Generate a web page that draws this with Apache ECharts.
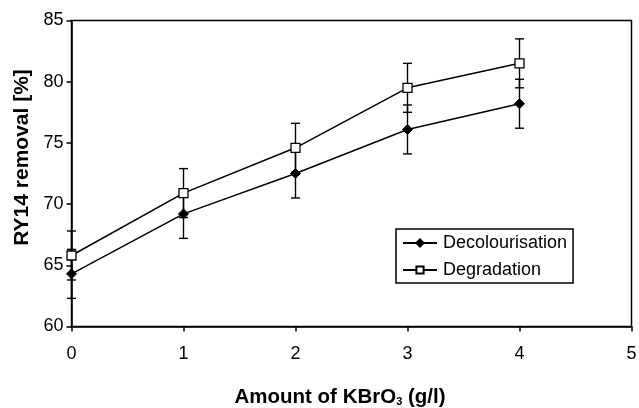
<!DOCTYPE html>
<html>
<head>
<meta charset="utf-8">
<script src="https://cdn.jsdelivr.net/npm/echarts@6/dist/echarts.min.js"></script>
<style>html,body{margin:0;padding:0;background:#fff}#c{width:639px;height:408px}</style>
</head>
<body>
<div id="c"></div>
<script>
const amounts = [0, 1, 2, 3, 4];
const decolourisation = [64.3, 69.2, 72.5, 76.1, 78.2];
const degradation = [65.8, 70.9, 74.6, 79.5, 81.5];
const decolourisationErr = [2, 2, 2, 2, 2];
const degradationErr = [2, 2, 2, 2, 2];
const xTicks = [0, 1, 2, 3, 4, 5];
const yTicks = [60, 65, 70, 75, 80, 85];

const FONT = 'Liberation Sans, Arial, sans-serif';

function pairs(xs, ys) { return xs.map((x, i) => [x, ys[i]]); }
function errData(xs, ys, es) { return xs.map((x, i) => [x, ys[i] - es[i], ys[i] + es[i]]); }

function errRender(params, api) {
  const x = api.value(0);
  const lo = api.coord([x, api.value(1)]);
  const hi = api.coord([x, api.value(2)]);
  const w = 4.5;
  const st = { stroke: '#000', lineWidth: 1.4 };
  return {
    type: 'group',
    children: [
      { type: 'line', shape: { x1: lo[0], y1: lo[1], x2: hi[0], y2: hi[1] }, style: st },
      { type: 'line', shape: { x1: lo[0] - w, y1: lo[1], x2: lo[0] + w, y2: lo[1] }, style: st },
      { type: 'line', shape: { x1: hi[0] - w, y1: hi[1], x2: hi[0] + w, y2: hi[1] }, style: st }
    ]
  };
}

const chart = echarts.init(document.getElementById('c'), null, { renderer: 'canvas' });
chart.setOption({
  animation: false,
  backgroundColor: '#fff',
  grid: { left: 71.5, right: 7.5, top: 20.5, bottom: 81.5, outerBoundsMode: 'none', containLabel: false, show: true, borderColor: '#000', borderWidth: 1.5, backgroundColor: 'transparent' },
  xAxis: {
    type: 'value', min: xTicks[0], max: xTicks[xTicks.length - 1], interval: 1,
    axisLine: { show: true, onZero: false, lineStyle: { color: '#000', width: 1.5 } },
    axisTick: { show: true, length: 5, lineStyle: { color: '#000', width: 1.5 } },
    splitLine: { show: false },
    axisLabel: { color: '#000', fontSize: 18, fontFamily: FONT, margin: 19 },
    name: '{n|Amount of KBrO}{s|3}{n| (g/l)}',
    nameLocation: 'middle', nameGap: 60,
    nameTextStyle: {
      padding: [0, 23, 0, 0],
      rich: {
        n: { fontSize: 20.5, fontWeight: 'bold', fontFamily: FONT, color: '#000' },
        s: { fontSize: 11, fontWeight: 'bold', fontFamily: FONT, color: '#000', verticalAlign: 'bottom', padding: [10, 0, 0, 0] }
      }
    }
  },
  yAxis: {
    type: 'value', min: yTicks[0], max: yTicks[yTicks.length - 1], interval: 5,
    axisLine: { show: true, lineStyle: { color: '#000', width: 1.5 } },
    axisTick: { show: true, length: 5, lineStyle: { color: '#000', width: 1.5 } },
    splitLine: { show: false },
    axisLabel: { color: '#000', fontSize: 18, fontFamily: FONT, margin: 8 },
    name: 'RY14 removal [%]', nameLocation: 'middle', nameGap: 37,
    nameTextStyle: { fontSize: 21, fontWeight: 'bold', fontFamily: FONT, color: '#000', padding: [0, 0, 0, 32] }
  },
  legend: {
    left: 396, top: 229, orient: 'vertical',
    padding: [5, 6, 4, 6], itemGap: 9, itemWidth: 34, itemHeight: 9,
    borderColor: '#000', borderWidth: 1.5, backgroundColor: '#fff',
    textStyle: { fontSize: 18, fontFamily: FONT, color: '#000', padding: [0, 0, 0, 1] },
    data: ['Decolourisation', 'Degradation']
  },
  series: [
    { name: 'Decolourisation-err', type: 'custom', renderItem: errRender, data: errData(amounts, decolourisation, decolourisationErr), z: 1, silent: true },
    { name: 'Degradation-err', type: 'custom', renderItem: errRender, data: errData(amounts, degradation, degradationErr), z: 1, silent: true },
    {
      name: 'Decolourisation', type: 'line', data: pairs(amounts, decolourisation),
      symbol: 'diamond', symbolSize: 10,
      lineStyle: { color: '#000', width: 1.5 },
      itemStyle: { color: '#000', borderColor: '#000', borderWidth: 1 }, z: 3
    },
    {
      name: 'Degradation', type: 'line', data: pairs(amounts, degradation),
      symbol: 'rect', symbolSize: 9,
      lineStyle: { color: '#000', width: 1.5 },
      itemStyle: { color: '#fff', borderColor: '#000', borderWidth: 1.3 }, z: 3
    }
  ]
});
</script>
</body>
</html>
